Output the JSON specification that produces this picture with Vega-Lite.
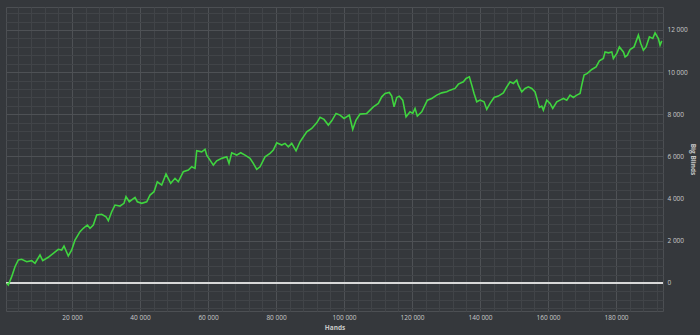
{
  "$schema": "https://vega.github.io/schema/vega-lite/v6.json",
  "width": 657,
  "height": 304,
  "autosize": {"type": "none"},
  "padding": {"left": 6, "top": 7, "right": 37, "bottom": 24},
  "background": "#35383c",
  "config": {
    "locale": {"number": {"decimal": ".", "thousands": " ", "grouping": [3], "currency": ["", ""]}},
    "view": {"stroke": "#4c4f53", "strokeWidth": 1, "fill": "#35383c"},
    "font": "Open Sans"
  },
  "data": {"values": [
    {"hands": 794, "bb": -14}, {"hands": 1265, "bb": -95}, {"hands": 2265, "bb": 299}, {"hands": 3235, "bb": 772},
    {"hands": 4206, "bb": 1090}, {"hands": 5206, "bb": 1123}, {"hands": 6676, "bb": 1009}, {"hands": 8147, "bb": 1057},
    {"hands": 9118, "bb": 934}, {"hands": 10588, "bb": 1327}, {"hands": 11382, "bb": 1057}, {"hands": 13029, "bb": 1218},
    {"hands": 14500, "bb": 1408}, {"hands": 15970, "bb": 1597}, {"hands": 16970, "bb": 1564}, {"hands": 17647, "bb": 1753},
    {"hands": 18912, "bb": 1280}, {"hands": 19912, "bb": 1564}, {"hands": 20882, "bb": 2038}, {"hands": 22353, "bb": 2431},
    {"hands": 23323, "bb": 2592}, {"hands": 24500, "bb": 2749}, {"hands": 25294, "bb": 2592}, {"hands": 26265, "bb": 2749},
    {"hands": 27265, "bb": 3223}, {"hands": 28735, "bb": 3256}, {"hands": 30000, "bb": 3142}, {"hands": 30676, "bb": 2952},
    {"hands": 31676, "bb": 3379}, {"hands": 32647, "bb": 3696}, {"hands": 34118, "bb": 3649}, {"hands": 35294, "bb": 3777},
    {"hands": 35882, "bb": 4090}, {"hands": 36853, "bb": 3853}, {"hands": 38529, "bb": 4061}, {"hands": 39206, "bb": 3853},
    {"hands": 40500, "bb": 3777}, {"hands": 41970, "bb": 3853}, {"hands": 42941, "bb": 4170}, {"hands": 44118, "bb": 4327},
    {"hands": 45088, "bb": 4801}, {"hands": 46382, "bb": 4644}, {"hands": 47647, "bb": 5166}, {"hands": 49029, "bb": 4725},
    {"hands": 50294, "bb": 4962}, {"hands": 51265, "bb": 4801}, {"hands": 52735, "bb": 5275}, {"hands": 54206, "bb": 5355},
    {"hands": 55206, "bb": 5511}, {"hands": 56176, "bb": 5436}, {"hands": 56676, "bb": 6270}, {"hands": 58147, "bb": 6222},
    {"hands": 59118, "bb": 6336}, {"hands": 59618, "bb": 6066}, {"hands": 60588, "bb": 5829}, {"hands": 61559, "bb": 5592},
    {"hands": 62559, "bb": 5796}, {"hands": 64029, "bb": 5910}, {"hands": 65500, "bb": 5985}, {"hands": 66176, "bb": 5673},
    {"hands": 66970, "bb": 6175}, {"hands": 68441, "bb": 6066}, {"hands": 69618, "bb": 6175}, {"hands": 70882, "bb": 6066},
    {"hands": 72353, "bb": 5910}, {"hands": 73323, "bb": 5673}, {"hands": 74323, "bb": 5388}, {"hands": 75294, "bb": 5511},
    {"hands": 76765, "bb": 5985}, {"hands": 78235, "bb": 6147}, {"hands": 79206, "bb": 6303}, {"hands": 80206, "bb": 6649},
    {"hands": 81676, "bb": 6540}, {"hands": 82647, "bb": 6620}, {"hands": 83618, "bb": 6459}, {"hands": 84618, "bb": 6620},
    {"hands": 85882, "bb": 6270}, {"hands": 87059, "bb": 6696}, {"hands": 89029, "bb": 7170}, {"hands": 90500, "bb": 7331},
    {"hands": 91970, "bb": 7597}, {"hands": 92941, "bb": 7853}, {"hands": 94118, "bb": 7758}, {"hands": 95382, "bb": 7488},
    {"hands": 96382, "bb": 7692}, {"hands": 97647, "bb": 8042}, {"hands": 98824, "bb": 7962}, {"hands": 100000, "bb": 7805},
    {"hands": 101559, "bb": 7962}, {"hands": 102559, "bb": 7284}, {"hands": 103529, "bb": 7725}, {"hands": 104706, "bb": 8009},
    {"hands": 106676, "bb": 8042}, {"hands": 108618, "bb": 8355}, {"hands": 110088, "bb": 8516}, {"hands": 111088, "bb": 8829},
    {"hands": 112059, "bb": 8990}, {"hands": 113324, "bb": 9037}, {"hands": 114029, "bb": 8862}, {"hands": 114706, "bb": 8355},
    {"hands": 115500, "bb": 8800}, {"hands": 116265, "bb": 8862}, {"hands": 117265, "bb": 8673}, {"hands": 118235, "bb": 7881},
    {"hands": 119412, "bb": 8118}, {"hands": 120206, "bb": 8042}, {"hands": 120882, "bb": 8279}, {"hands": 121559, "bb": 7914},
    {"hands": 122853, "bb": 8118}, {"hands": 124500, "bb": 8672}, {"hands": 125794, "bb": 8753}, {"hands": 127265, "bb": 8909},
    {"hands": 128735, "bb": 9018}, {"hands": 130206, "bb": 9066}, {"hands": 131176, "bb": 9146}, {"hands": 132647, "bb": 9227},
    {"hands": 133618, "bb": 9431}, {"hands": 135088, "bb": 9540}, {"hands": 135882, "bb": 9701}, {"hands": 136853, "bb": 9777},
    {"hands": 137559, "bb": 9383}, {"hands": 138235, "bb": 8990}, {"hands": 139029, "bb": 8592}, {"hands": 140000, "bb": 8673},
    {"hands": 141176, "bb": 8592}, {"hands": 141971, "bb": 8232}, {"hands": 142941, "bb": 8516}, {"hands": 144118, "bb": 8800},
    {"hands": 145382, "bb": 8862}, {"hands": 146853, "bb": 9018}, {"hands": 147853, "bb": 9303}, {"hands": 148824, "bb": 9540},
    {"hands": 149794, "bb": 9464}, {"hands": 150794, "bb": 9620}, {"hands": 151265, "bb": 9383}, {"hands": 152265, "bb": 9066},
    {"hands": 153235, "bb": 9227}, {"hands": 154206, "bb": 9303}, {"hands": 155206, "bb": 9227}, {"hands": 156176, "bb": 9066},
    {"hands": 156853, "bb": 8673}, {"hands": 157441, "bb": 8327}, {"hands": 158147, "bb": 8388}, {"hands": 158618, "bb": 8198},
    {"hands": 159618, "bb": 8673}, {"hands": 160588, "bb": 8516}, {"hands": 161382, "bb": 8279}, {"hands": 162559, "bb": 8592},
    {"hands": 163529, "bb": 8673}, {"hands": 164500, "bb": 8753}, {"hands": 165500, "bb": 8673}, {"hands": 166471, "bb": 8909},
    {"hands": 167441, "bb": 8800}, {"hands": 168441, "bb": 8909}, {"hands": 169412, "bb": 8990}, {"hands": 169912, "bb": 9383},
    {"hands": 170588, "bb": 9857}, {"hands": 171559, "bb": 9938}, {"hands": 172853, "bb": 10127}, {"hands": 174118, "bb": 10250},
    {"hands": 175088, "bb": 10535}, {"hands": 176265, "bb": 10649}, {"hands": 176765, "bb": 10961}, {"hands": 177735, "bb": 10914},
    {"hands": 178735, "bb": 10961}, {"hands": 179206, "bb": 10649}, {"hands": 180206, "bb": 10886}, {"hands": 180971, "bb": 11198},
    {"hands": 182147, "bb": 10961}, {"hands": 182647, "bb": 10725}, {"hands": 183324, "bb": 10805}, {"hands": 184118, "bb": 11075},
    {"hands": 185294, "bb": 11198}, {"hands": 186559, "bb": 11753}, {"hands": 187265, "bb": 11359}, {"hands": 188029, "bb": 11042},
    {"hands": 188824, "bb": 11198}, {"hands": 189794, "bb": 11672}, {"hands": 190794, "bb": 11596}, {"hands": 191471, "bb": 11862},
    {"hands": 192441, "bb": 11596}, {"hands": 192941, "bb": 11279}, {"hands": 193441, "bb": 11483}
  ]},
  "encoding": {
    "x": {
      "field": "hands", "type": "quantitative",
      "scale": {"domain": [590, 193800], "nice": false, "zero": false},
      "axis": {
        "title": "Hands", "titleColor": "#c8c8c8", "titleFontSize": 6.5, "titleFontWeight": "bold", "titlePadding": 4,
        "values": [4000, 8000, 12000, 16000, 20000, 24000, 28000, 32000, 36000, 40000, 44000, 48000, 52000, 56000, 60000, 64000, 68000, 72000, 76000, 80000, 84000, 88000, 92000, 96000, 100000, 104000, 108000, 112000, 116000, 120000, 124000, 128000, 132000, 136000, 140000, 144000, 148000, 152000, 156000, 160000, 164000, 168000, 172000, 176000, 180000, 184000, 188000, 192000],
        "labelExpr": "datum.value % 20000 === 0 ? format(datum.value, ',d') : ''",
        "labelColor": "#c8c8c8", "labelFontSize": 6.5, "labelPadding": 3,
        "ticks": false, "domain": false,
        "grid": true,
        "gridColor": {"condition": {"test": "datum.value % 20000 === 0", "value": "#4e5155"}, "value": "#414448"},
        "gridWidth": 1
      }
    },
    "y": {
      "field": "bb", "type": "quantitative",
      "scale": {"domain": [-1330, 13090], "nice": false, "zero": false},
      "axis": {
        "orient": "right", "title": "Big Blinds", "titleColor": "#c8c8c8", "titleFontSize": 6.5, "titleFontWeight": "bold", "titlePadding": 2,
        "values": [-1200, -800, -400, 0, 400, 800, 1200, 1600, 2000, 2400, 2800, 3200, 3600, 4000, 4400, 4800, 5200, 5600, 6000, 6400, 6800, 7200, 7600, 8000, 8400, 8800, 9200, 9600, 10000, 10400, 10800, 11200, 11600, 12000, 12400, 12800],
        "labelExpr": "datum.value % 2000 === 0 ? format(datum.value, ',d') : ''",
        "labelColor": "#c8c8c8", "labelFontSize": 6.5, "labelPadding": 4,
        "ticks": false, "domain": false,
        "grid": true,
        "gridColor": {"condition": {"test": "datum.value % 2000 === 0", "value": "#4e5155"}, "value": "#414448"},
        "gridWidth": 1
      }
    }
  },
  "layer": [
    {
      "mark": {"type": "rule", "color": "#d8d8d8", "strokeWidth": 2},
      "encoding": {"x": {"value": 0}, "x2": {"value": 657}, "y": {"datum": 0, "type": "quantitative"}}
    },
    {
      "mark": {"type": "line", "color": "#3fd43f", "strokeWidth": 1.6, "interpolate": "linear"}
    }
  ]
}
